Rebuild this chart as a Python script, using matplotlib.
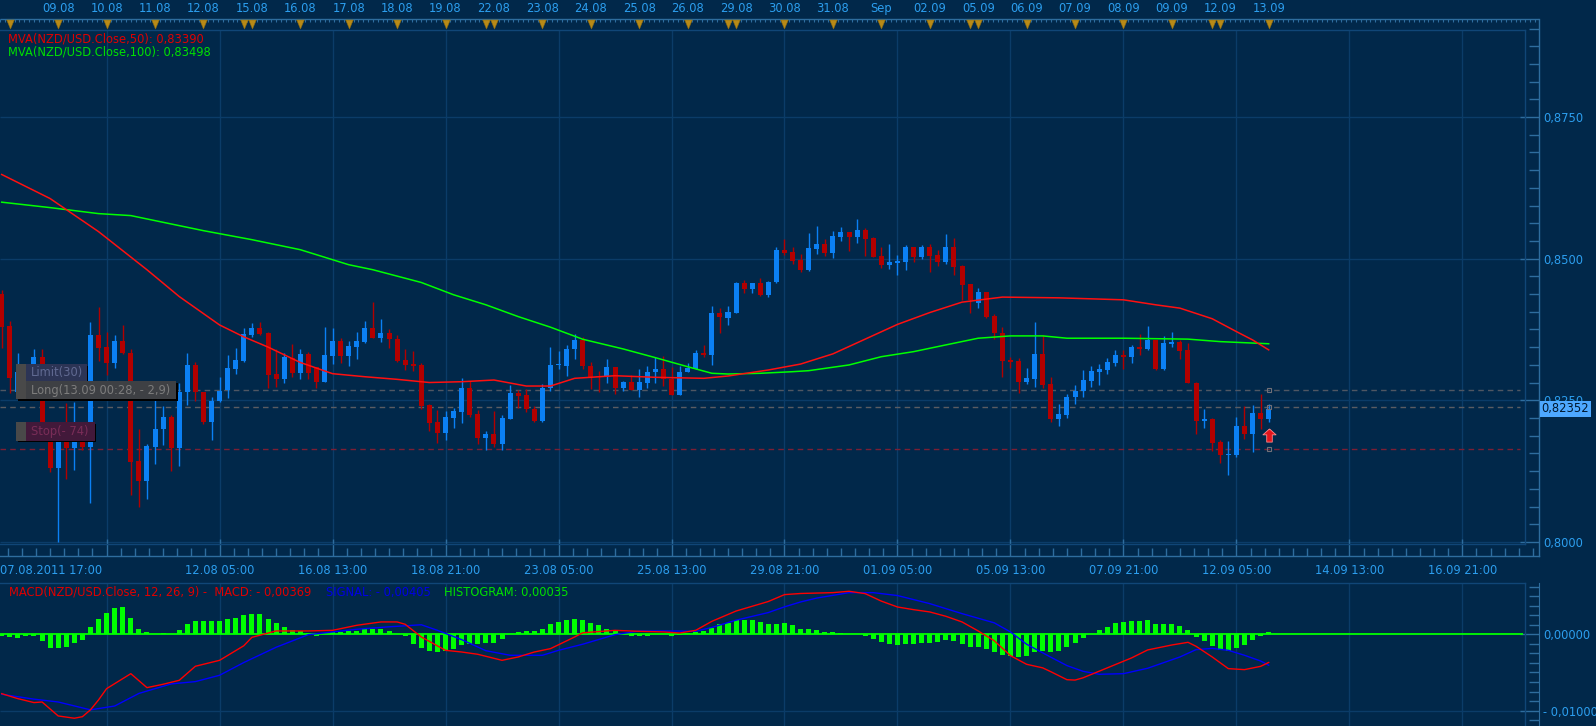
import numpy as np
import matplotlib
matplotlib.use('Agg')
import matplotlib.pyplot as plt
from matplotlib.patches import Rectangle
from matplotlib.lines import Line2D
from matplotlib.path import Path
from matplotlib.transforms import blended_transform_factory
from matplotlib.ticker import FixedLocator, FuncFormatter

plt.rcParams['font.family'] = ['DejaVu Sans']

# ---------------------------------------------------------------- data
# NZD/USD 4-hour candles (index 0 = 07.08.2011 17:00)
opens = [
    0.84380, 0.83814, 0.82646, 0.83000, 0.83141, 0.83265, 0.81778, 0.81300, 0.81778, 0.81654,
    0.81778, 0.81672, 0.83655, 0.83442, 0.83159, 0.83548, 0.83336, 0.81424, 0.81070, 0.81672,
    0.81991, 0.82203, 0.81654, 0.82646, 0.83124, 0.82646, 0.82115, 0.82486, 0.82681, 0.83053,
    0.83194, 0.83655, 0.83778, 0.83690, 0.82964, 0.82876, 0.83247, 0.82982, 0.83318, 0.83088,
    0.82823, 0.83283, 0.83548, 0.83283, 0.83442, 0.83531, 0.83778, 0.83601, 0.83690, 0.83584,
    0.83212, 0.83141, 0.83124, 0.82416, 0.82115, 0.81920, 0.82185, 0.82292, 0.82716, 0.82256,
    0.81831, 0.81902, 0.81725, 0.82168, 0.82628, 0.82593, 0.82345, 0.82132, 0.82716, 0.83124,
    0.83106, 0.83407, 0.83566, 0.83106, 0.82929, 0.82911, 0.83088, 0.82716, 0.82823, 0.82681,
    0.82805, 0.83000, 0.83053, 0.82876, 0.82593, 0.83000, 0.83053, 0.83336, 0.83301, 0.84044,
    0.83955, 0.84044, 0.84575, 0.84469, 0.84575, 0.84363, 0.84593, 0.85159, 0.85124, 0.84982,
    0.84805, 0.85177, 0.85265, 0.85106, 0.85389, 0.85478, 0.85389, 0.85513, 0.85371, 0.85053,
    0.84894, 0.84929, 0.84947, 0.85212, 0.85035, 0.85212, 0.85071, 0.84947, 0.85212, 0.84876,
    0.84557, 0.84221, 0.84416, 0.83991, 0.83690, 0.83212, 0.83194, 0.82823, 0.82876, 0.83318,
    0.82787, 0.82168, 0.82239, 0.82557, 0.82663, 0.82840, 0.83000, 0.83035, 0.83159, 0.83301,
    0.83265, 0.83442, 0.83407, 0.83566, 0.83053, 0.83495, 0.83531, 0.83389, 0.82805, 0.82132,
    0.82168, 0.81761, 0.81531, 0.81531, 0.82044, 0.81902, 0.82274, 0.82168]
highs = [
    0.84451, 0.83902, 0.83336, 0.83106, 0.83407, 0.83407, 0.82115, 0.82062, 0.82451, 0.82469,
    0.81973, 0.83885, 0.84150, 0.83708, 0.83655, 0.83832, 0.83407, 0.81991, 0.81725, 0.82522,
    0.82398, 0.82239, 0.82805, 0.83336, 0.83177, 0.82646, 0.82557, 0.82911, 0.83301, 0.83424,
    0.83778, 0.83867, 0.83885, 0.83708, 0.83407, 0.83336, 0.83495, 0.83407, 0.83354, 0.83088,
    0.83796, 0.83778, 0.83601, 0.83548, 0.83708, 0.83902, 0.84239, 0.83938, 0.83761, 0.83655,
    0.83407, 0.83371, 0.83159, 0.82433, 0.82327, 0.82309, 0.82362, 0.82893, 0.82840, 0.82327,
    0.81955, 0.82309, 0.82239, 0.82770, 0.82681, 0.82699, 0.82398, 0.82787, 0.83442, 0.83371,
    0.83478, 0.83672, 0.83619, 0.83177, 0.83017, 0.83230, 0.83088, 0.82840, 0.82947, 0.83053,
    0.83106, 0.83265, 0.83283, 0.83088, 0.83106, 0.83159, 0.83389, 0.83478, 0.84168, 0.84132,
    0.84168, 0.84593, 0.84628, 0.84575, 0.84663, 0.84610, 0.85212, 0.85354, 0.85212, 0.85088,
    0.85460, 0.85584, 0.85354, 0.85495, 0.85566, 0.85478, 0.85708, 0.85548, 0.85389, 0.85212,
    0.85265, 0.85071, 0.85248, 0.85212, 0.85248, 0.85265, 0.85159, 0.85442, 0.85371, 0.84894,
    0.84557, 0.84486, 0.84416, 0.84026, 0.83796, 0.83265, 0.83247, 0.83070, 0.83885, 0.83655,
    0.82911, 0.82433, 0.82610, 0.82770, 0.83035, 0.83106, 0.83141, 0.83247, 0.83389, 0.83389,
    0.83478, 0.83672, 0.83814, 0.83566, 0.83637, 0.83708, 0.83566, 0.83513, 0.82823, 0.82345,
    0.82185, 0.81796, 0.81778, 0.82203, 0.82398, 0.82416, 0.82610, 0.82433]
lows = [
    0.83424, 0.82628, 0.82539, 0.82539, 0.83000, 0.81796, 0.81230, 0.79991, 0.81106, 0.81265,
    0.81619, 0.80681, 0.83194, 0.82947, 0.83070, 0.83318, 0.80823, 0.80610, 0.80752, 0.81371,
    0.81708, 0.81247, 0.81336, 0.82416, 0.82486, 0.82079, 0.81796, 0.82469, 0.82539, 0.82964,
    0.83177, 0.83619, 0.83655, 0.82716, 0.82734, 0.82805, 0.82911, 0.82876, 0.82876, 0.82716,
    0.82823, 0.83141, 0.83159, 0.83106, 0.83230, 0.83513, 0.83601, 0.83531, 0.83424, 0.83177,
    0.83035, 0.83017, 0.82345, 0.81955, 0.81743, 0.81796, 0.82008, 0.82097, 0.82203, 0.81725,
    0.81619, 0.81672, 0.81619, 0.82168, 0.82362, 0.82292, 0.82115, 0.82115, 0.82663, 0.83053,
    0.82929, 0.83230, 0.83053, 0.82699, 0.82646, 0.82805, 0.82610, 0.82663, 0.82681, 0.82557,
    0.82716, 0.82805, 0.82752, 0.82593, 0.82593, 0.83000, 0.83053, 0.83265, 0.83124, 0.83690,
    0.83832, 0.84044, 0.84398, 0.84398, 0.84345, 0.84327, 0.84575, 0.85071, 0.84911, 0.84770,
    0.84787, 0.85088, 0.85053, 0.85017, 0.85318, 0.85141, 0.85283, 0.85053, 0.85035, 0.84840,
    0.84823, 0.84717, 0.84805, 0.84947, 0.85000, 0.84770, 0.84876, 0.84911, 0.84717, 0.84274,
    0.84044, 0.84132, 0.83955, 0.83584, 0.82911, 0.83070, 0.82628, 0.82787, 0.82734, 0.82716,
    0.82115, 0.82044, 0.82185, 0.82433, 0.82557, 0.82734, 0.82770, 0.82964, 0.83106, 0.83053,
    0.83159, 0.83301, 0.83389, 0.83035, 0.83035, 0.83442, 0.83230, 0.82805, 0.81902, 0.82008,
    0.81601, 0.81389, 0.81177, 0.81495, 0.81814, 0.81584, 0.81991, 0.82115]
closes = [
    0.83796, 0.82893, 0.83000, 0.82681, 0.83265, 0.82062, 0.81300, 0.81778, 0.81654, 0.81778,
    0.81672, 0.83655, 0.83424, 0.83159, 0.83548, 0.83336, 0.81407, 0.81070, 0.81690, 0.81991,
    0.82203, 0.81654, 0.82646, 0.83124, 0.82646, 0.82115, 0.82486, 0.82663, 0.83070, 0.83212,
    0.83672, 0.83778, 0.83672, 0.82947, 0.82876, 0.83265, 0.82982, 0.83318, 0.82982, 0.82823,
    0.83301, 0.83548, 0.83283, 0.83460, 0.83548, 0.83778, 0.83601, 0.83690, 0.83584, 0.83194,
    0.83124, 0.83106, 0.82398, 0.82097, 0.81920, 0.82203, 0.82309, 0.82716, 0.82239, 0.81831,
    0.81902, 0.81725, 0.82185, 0.82628, 0.82575, 0.82345, 0.82132, 0.82716, 0.83124, 0.83141,
    0.83407, 0.83566, 0.83106, 0.82911, 0.82911, 0.83088, 0.82716, 0.82823, 0.82681, 0.82823,
    0.83000, 0.83053, 0.82876, 0.82593, 0.83000, 0.83070, 0.83336, 0.83301, 0.84044, 0.83973,
    0.84062, 0.84575, 0.84469, 0.84575, 0.84363, 0.84593, 0.85159, 0.85106, 0.84964, 0.84805,
    0.85194, 0.85265, 0.85106, 0.85407, 0.85478, 0.85389, 0.85513, 0.85354, 0.85035, 0.84894,
    0.84947, 0.84964, 0.85212, 0.85035, 0.85212, 0.85053, 0.84947, 0.85212, 0.84858, 0.84540,
    0.84274, 0.84416, 0.83973, 0.83690, 0.83194, 0.83177, 0.82823, 0.82893, 0.83318, 0.82770,
    0.82168, 0.82256, 0.82557, 0.82663, 0.82858, 0.83017, 0.83053, 0.83177, 0.83301, 0.83265,
    0.83442, 0.83407, 0.83566, 0.83053, 0.83513, 0.83531, 0.83371, 0.82805, 0.82132, 0.82168,
    0.81743, 0.81531, 0.81548, 0.82044, 0.81902, 0.82274, 0.82168, 0.82352]

# moving averages (read at selected candles)
ma50_idx = [0, 6, 12, 18, 22, 27, 30, 33, 37, 41, 45, 49, 53, 57, 61, 65, 68, 71, 76, 81,
            87, 90, 95, 99, 103, 107, 111, 115, 119, 124, 131, 139, 143, 146, 150, 153, 155, 157]
ma50_val = [0.86487, 0.86062, 0.85478, 0.84805, 0.84332, 0.83830, 0.83620, 0.83440, 0.83168, 0.82970,
            0.82916, 0.82870, 0.82814, 0.82828, 0.82858, 0.82752, 0.82752, 0.82888, 0.82934, 0.82906,
            0.82888, 0.82929, 0.83035, 0.83140, 0.83320, 0.83580, 0.83840, 0.84049, 0.84233, 0.84322,
            0.84309, 0.84274, 0.84186, 0.84127, 0.83940, 0.83713, 0.83566, 0.83390]
ma100_idx = [0, 6, 12, 16, 25, 31, 37, 43, 46, 52, 56, 60, 64, 68, 72, 77, 81, 85, 88, 90,
             94, 98, 100, 105, 109, 113, 117, 121, 125, 129, 132, 139, 147, 151, 157]
ma100_val = [0.85998, 0.85902, 0.85796, 0.85761, 0.85495, 0.85336, 0.85159, 0.84894, 0.84805, 0.84580,
             0.84363, 0.84186, 0.83978, 0.83791, 0.83578, 0.83407, 0.83253, 0.83093, 0.82977, 0.82964,
             0.82977, 0.83005, 0.83023, 0.83124, 0.83270, 0.83359, 0.83478, 0.83596, 0.83637, 0.83637,
             0.83596, 0.83596, 0.83580, 0.83536, 0.83498]

# MACD(12,26,9)
hist = [
    -0.00026, -0.00035, -0.00044, -0.00026, -0.00017, -0.00092, -0.00175, -0.00179, -0.00166, -0.00114,
    -0.00079, 0.00092, 0.00205, 0.00280, 0.00345, 0.00354, 0.00210, 0.00074, 0.00031, 0.00000,
    0.00013, 0.00000, 0.00052, 0.00140, 0.00175, 0.00175, 0.00175, 0.00175, 0.00197, 0.00218,
    0.00249, 0.00262, 0.00262, 0.00205, 0.00153, 0.00096, 0.00052, 0.00044, 0.00017, -0.00026,
    0.00000, 0.00026, 0.00031, 0.00039, 0.00039, 0.00066, 0.00066, 0.00066, 0.00044, 0.00000,
    -0.00026, -0.00122, -0.00175, -0.00218, -0.00232, -0.00218, -0.00188, -0.00144, -0.00122, -0.00122,
    -0.00114, -0.00114, -0.00061, 0.00000, 0.00031, 0.00044, 0.00044, 0.00074, 0.00131, 0.00162,
    0.00184, 0.00205, 0.00184, 0.00153, 0.00118, 0.00074, 0.00039, 0.00000, -0.00026, -0.00026,
    -0.00017, 0.00000, 0.00000, -0.00026, -0.00013, 0.00017, 0.00031, 0.00044, 0.00087, 0.00140,
    0.00153, 0.00184, 0.00192, 0.00184, 0.00162, 0.00140, 0.00140, 0.00144, 0.00118, 0.00066,
    0.00066, 0.00052, 0.00031, 0.00026, 0.00013, 0.00000, 0.00000, -0.00017, -0.00061, -0.00100,
    -0.00122, -0.00144, -0.00122, -0.00122, -0.00114, -0.00114, -0.00100, -0.00079, -0.00087, -0.00122,
    -0.00166, -0.00166, -0.00192, -0.00232, -0.00275, -0.00288, -0.00297, -0.00284, -0.00232, -0.00218,
    -0.00232, -0.00218, -0.00166, -0.00114, -0.00048, 0.00000, 0.00052, 0.00092, 0.00144, 0.00157,
    0.00170, 0.00170, 0.00184, 0.00131, 0.00131, 0.00131, 0.00105, 0.00052, -0.00035, -0.00087,
    -0.00157, -0.00210, -0.00218, -0.00179, -0.00144, -0.00079, -0.00026, 0.00035]
macd_idx = [0, 2, 4, 5, 7, 9, 10, 11, 12, 13, 16, 18, 20, 22, 24, 27, 30, 31, 34, 38,
            41, 44, 47, 49, 50, 52, 55, 57, 59, 62, 64, 66, 68, 71, 72, 76, 79, 82, 84, 86,
            88, 91, 95, 97, 99, 103, 105, 107, 109, 111, 113, 115, 117, 119, 121, 123, 125, 127, 129, 130,
            132, 133, 134, 137, 140, 142, 145, 147, 148, 150, 152, 154, 156, 157]
macd_val = [-0.00778, -0.00843, -0.00895, -0.00887, -0.01070, -0.01100, -0.01080, -0.00990, -0.00860, -0.00712,
            -0.00516, -0.00699, -0.00655, -0.00603, -0.00419, -0.00341, -0.00150, -0.00040, 0.00044, 0.00044,
            0.00052, 0.00118, 0.00162, 0.00162, 0.00131, -0.00035, -0.00210, -0.00232, -0.00262, -0.00341,
            -0.00297, -0.00232, -0.00188, -0.00035, 0.00020, 0.00052, 0.00039, 0.00031, 0.00017, 0.00052,
            0.00170, 0.00305, 0.00430, 0.00520, 0.00535, 0.00546, 0.00564, 0.00533, 0.00435, 0.00358,
            0.00323, 0.00293, 0.00236, 0.00162, 0.00044, -0.00085, -0.00280, -0.00393, -0.00440, -0.00490,
            -0.00595, -0.00600, -0.00570, -0.00440, -0.00310, -0.00205, -0.00140, -0.00105, -0.00157, -0.00297,
            -0.00450, -0.00463, -0.00420, -0.00369]
signal_idx = [0, 4, 7, 11, 14, 17, 21, 24, 27, 30, 34, 38, 41, 44, 48, 52, 54, 57, 60, 63,
              67, 69, 72, 76, 79, 83, 86, 88, 91, 95, 97, 99, 101, 105, 108, 111, 115, 119, 123, 125,
              127, 130, 132, 134, 136, 139, 142, 146, 148, 150, 152, 154, 156, 157]
signal_val = [-0.00786, -0.00850, -0.00887, -0.00990, -0.00940, -0.00775, -0.00650, -0.00620, -0.00537, -0.00370,
              -0.00170, -0.00005, 0.00031, 0.00066, 0.00098, 0.00125, 0.00052, -0.00070, -0.00215, -0.00275,
              -0.00275, -0.00210, -0.00130, -0.00005, 0.00044, 0.00044, 0.00039, 0.00090, 0.00185, 0.00285,
              0.00360, 0.00424, 0.00475, 0.00546, 0.00546, 0.00508, 0.00402, 0.00271, 0.00150, 0.00031,
              -0.00130, -0.00300, -0.00410, -0.00485, -0.00524, -0.00516, -0.00445, -0.00297, -0.00201, -0.00185,
              -0.00210, -0.00275, -0.00350, -0.00405]

# calendar / axis labels
session_starts = [1, 7, 13, 19, 25, 30, 31, 37, 43, 49, 55, 60, 61, 67, 73, 79, 85, 90, 91, 97,
                  103, 109, 115, 120, 121, 127, 133, 139, 145, 150, 151, 157]
day_label_idx = [7, 13, 19, 25, 31, 37, 43, 49, 55, 61, 67, 73, 79, 85, 91, 97, 103, 109, 115, 121,
                 127, 133, 139, 145, 151, 157]
day_labels = ['09.08', '10.08', '11.08', '12.08', '15.08', '16.08', '17.08', '18.08', '19.08', '22.08',
              '23.08', '24.08', '25.08', '26.08', '29.08', '30.08', '31.08', 'Sep', '02.09', '05.09',
              '06.09', '07.09', '08.09', '09.09', '12.09', '13.09']
grid_idx = [13, 27, 41, 55, 69, 83, 97, 111, 125, 139, 153, 167, 181]
time_label_idx = [27, 41, 55, 69, 83, 97, 111, 125, 139, 153, 167, 181]
time_labels = ['12.08 05:00', '16.08 13:00', '18.08 21:00', '23.08 05:00', '25.08 13:00', '29.08 21:00',
               '01.09 05:00', '05.09 13:00', '07.09 21:00', '12.09 05:00', '14.09 13:00', '16.09 21:00']
first_time_label = '07.08.2011 17:00'

price_ticks = [0.800, 0.825, 0.850, 0.875]
macd_ticks = [-0.010, 0.0]

current_price = 0.82352
order_entry = 0.82381
order_limit = 0.82681
order_stop = 0.81641
buy_arrow_idx = 157
buy_arrow_price = 0.81896
order_texts = ['Limit(30)', 'Long(13.09 00:28, - 2,9)', 'Stop(- 74)']

# ---------------------------------------------------------------- style / layout
BG = '#01284a'
GRID = '#0b3c68'
FRAME = '#104677'
AXC = '#2e6d9e'
LBL = '#2c9eee'
UP = '#0b80f4'
DN = '#b20000'
FS = 8.3

W, H = 1596, 726
fig = plt.figure(figsize=(W / 100, H / 100), dpi=100)
fig.patch.set_facecolor(BG)

X0, DX = 1.7, 8.07      # candle centre position in px
XR, XIN = 1539.0, 1525.0


def ix(px):
    return (px - X0) / DX


def fx(px):
    return px / W


def fy(py):
    return 1.0 - py / H


def p_of(y):
    return 0.8 + (541.9 - y) / 5664.0


def m_of(y):
    return (634.3 - y) / 7630.0


def fmt(v, d):
    s = f"{abs(v):.{d}f}".replace('.', ',')
    return ('- ' + s) if v < -1e-12 else s


def fline(x0, y0, x1, y1, c, lw=1.0):
    fig.add_artist(Line2D([fx(x0), fx(x1)], [fy(y0), fy(y1)], color=c, lw=lw,
                          transform=fig.transFigure, zorder=1))


# ---------------------------------------------------------------- main price panel
MT, MB = 18.5, 556.0
ax = fig.add_axes([0, fy(MB), fx(XR), (MB - MT) / H])
ax.set_facecolor('none')
ax.set_xlim(ix(0), ix(XR))
ax.set_ylim(p_of(MB), p_of(MT))
for s in ['left', 'top']:
    ax.spines[s].set_visible(False)
for s in ['right', 'bottom']:
    ax.spines[s].set_color(AXC)
    ax.spines[s].set_linewidth(1.0)

ax.yaxis.set_ticks_position('right')
ax.set_yticks(price_ticks)
ax.yaxis.set_minor_locator(FixedLocator(np.arange(0.796875, 0.8925, 0.003125)))
ax.yaxis.set_major_formatter(FuncFormatter(lambda v, _: f"{v:.4f}".replace('.', ',')))
ax.tick_params(axis='y', which='major', direction='in', length=14, width=1, color=AXC,
               labelcolor=LBL, labelsize=FS, pad=3)
ax.tick_params(axis='y', which='minor', direction='in', length=7, width=1, color=AXC)

ax.set_xticks(grid_idx)
ax.xaxis.set_minor_locator(FixedLocator(np.arange(grid_idx[0] - 14, ix(XR), 1.75)))
ax.tick_params(axis='x', which='major', direction='in', length=12, width=1, color=AXC,
               labelbottom=False)
ax.tick_params(axis='x', which='minor', direction='in', length=6, width=1, color=AXC)

# grid + frame
ax.vlines(grid_idx, p_of(544), p_of(30), colors=GRID, lw=1, zorder=0)
ax.hlines(price_ticks, ix(0), ix(XIN), colors=GRID, lw=1, zorder=0)
fline(0, 30, XIN, 30, FRAME)
fline(XIN, 30, XIN, 544, FRAME)
fline(0, 544, XIN, 544, FRAME)

# candles
idx = np.arange(len(closes))
o = np.array(opens); c = np.array(closes); h = np.array(highs); l = np.array(lows)
col = np.where(c >= o, UP, DN)
ax.vlines(idx, l, h, colors=col, lw=1.0, zorder=3)
ax.bar(idx, np.maximum(np.abs(c - o), 0.00025), bottom=np.minimum(o, c), width=0.62,
       color=col, lw=0, zorder=3)

# moving averages
ax.plot(ma100_idx, ma100_val, color='#00ff00', lw=1.1, zorder=4)
ax.plot(ma50_idx, ma50_val, color='#ff1010', lw=1.1, zorder=4)

# order lines
xe = ix(1520)
ax.hlines(order_limit, ix(0), xe, colors='#4f5663', lw=1, linestyles=(0, (4, 3)), zorder=2)
ax.hlines(order_entry, ix(0), xe, colors='#5b5c62', lw=1, linestyles=(0, (4, 3)), zorder=2)
ax.hlines(order_stop, ix(0), xe, colors='#7b1f35', lw=1, linestyles=(0, (4, 3)), zorder=2)
ax.plot([buy_arrow_idx] * 3, [order_limit, order_entry, order_stop], ls='none', marker='s', ms=3,
        mfc='none', mec='#707078', mew=0.8, zorder=5)

arrow = Path([(0, 1), (1, 0.1), (0.42, 0.1), (0.42, -1), (-0.42, -1), (-0.42, 0.1), (-1, 0.1), (0, 1)])
ax.plot([buy_arrow_idx], [buy_arrow_price], ls='none', marker=arrow, ms=9.5, color='#e4141c',
        mec='#ff8a8a', mew=0.6, zorder=6)

# current price label
ax.text(ix(1541.5), current_price, fmt(current_price, 5), ha='left', va='center', fontsize=FS,
        color='#00172e', clip_on=False, zorder=10,
        bbox=dict(boxstyle='square,pad=0.12', fc='#4ea8ff', ec='none'))

# bottom time labels
tr = blended_transform_factory(ax.transData, fig.transFigure)
fig.text(fx(0), fy(570), first_time_label, ha='left', va='center', color=LBL, fontsize=FS)
for i, lab in zip(time_label_idx, time_labels):
    ax.text(i, fy(570), lab, transform=tr, ha='center', va='center', color=LBL, fontsize=FS,
            clip_on=False)

# legends
fig.text(fx(8.4), fy(39.3), f"MVA(NZD/USD.Close,50): {fmt(ma50_val[-1], 5)}", color='#e00000',
         fontsize=FS, va='center', ha='left')
fig.text(fx(8.4), fy(52.3), f"MVA(NZD/USD.Close,100): {fmt(ma100_val[-1], 5)}", color='#00e000',
         fontsize=FS, va='center', ha='left')


# order boxes
def order_box(x0, y0, x1, y1, fc, tc, label):
    fig.add_artist(Rectangle((fx(x0 + 1.5), fy(y1 + 1.5)), fx(x1 - x0), (y1 - y0) / H,
                             transform=fig.transFigure, fc='#000000', ec='none', zorder=7))
    fig.add_artist(Rectangle((fx(x0), fy(y1)), fx(x1 - x0), (y1 - y0) / H,
                             transform=fig.transFigure, fc=fc, ec='none', zorder=8))
    fig.add_artist(Rectangle((fx(x0), fy(y1)), fx(10), (y1 - y0) / H,
                             transform=fig.transFigure, fc='#494949', ec='none', zorder=9))
    fig.text(fx(x0 + 15), fy((y0 + y1) / 2), label, color=tc, fontsize=FS, va='center',
             ha='left', zorder=10)


order_box(16, 364, 86.7, 381, '#2c3455', '#616a92', order_texts[0])
order_box(16, 381.5, 176, 399, '#3e4044', '#7d7d7d', order_texts[1])
order_box(16, 422, 94.7, 440.7, '#42193a', '#7a2d58', order_texts[2])

# ---------------------------------------------------------------- top calendar strip
axt = fig.add_axes([0, fy(30), fx(XR), 30 / H])
axt.set_xlim(ix(0), ix(XR))
axt.set_ylim(30, 0)
axt.axis('off')
axt.hlines(18.5, ix(0), ix(XR), colors=AXC, lw=1)
axt.vlines(np.arange(session_starts[0] - 1.2, ix(XR), 0.6), 18.5, 21.5, colors=AXC, lw=0.8)
axt.vlines(session_starts, 18.5, 25.5, colors=AXC, lw=1)
tri = Path([(-0.42, 0.5), (0.42, 0.5), (0, -0.5), (-0.42, 0.5)])
axt.plot(session_starts, [23.5] * len(session_starts), ls='none', marker=tri, ms=6.5,
         color='#b88a17', mec='#8a6a10', mew=0.4)
for i, lab in zip(day_label_idx, day_labels):
    axt.text(i, 8.5, lab, ha='center', va='center', color=LBL, fontsize=FS)

# ---------------------------------------------------------------- MACD panel
MCT = 583.3
axm = fig.add_axes([0, 0, fx(XR), (H - MCT) / H])
axm.set_facecolor('none')
axm.set_xlim(ix(0), ix(XR))
axm.set_ylim(m_of(H), m_of(MCT))
for s in ['left', 'top', 'bottom']:
    axm.spines[s].set_visible(False)
axm.spines['right'].set_color(AXC)
axm.yaxis.set_ticks_position('right')
axm.set_yticks(macd_ticks)
axm.yaxis.set_minor_locator(FixedLocator(np.arange(-0.0125, 0.0075, 0.00125)))
axm.yaxis.set_major_formatter(FuncFormatter(lambda v, _: fmt(v, 5)))
axm.tick_params(axis='y', which='major', direction='in', length=14, width=1, color=AXC,
                labelcolor=LBL, labelsize=FS, pad=3)
axm.tick_params(axis='y', which='minor', direction='in', length=7, width=1, color=AXC)
axm.tick_params(axis='x', which='both', bottom=False, labelbottom=False)

axm.vlines(grid_idx, m_of(H), m_of(MCT), colors=GRID, lw=1, zorder=0)
axm.hlines(macd_ticks[0], ix(0), ix(XIN), colors=GRID, lw=1, zorder=0)
fline(0, MCT, XIN, MCT, FRAME)
fline(XIN, MCT, XIN, H, FRAME)

axm.bar(np.arange(len(hist)), hist, width=0.62, color='#00ff00', lw=0, zorder=3)
axm.hlines(0, ix(0), ix(1523), colors='#00ff00', lw=1.3, zorder=3)
axm.plot(signal_idx, signal_val, color='#0000ff', lw=1.0, zorder=4)
axm.plot(macd_idx, macd_val, color='#ff0000', lw=1.0, zorder=4)

fig.text(fx(9.2), fy(592.3), f"MACD(NZD/USD.Close, 12, 26, 9) -  MACD: {fmt(macd_val[-1], 5)}",
         color='#e00000', fontsize=FS, va='center', ha='left')
fig.text(fx(326.5), fy(592.3), f"SIGNAL: {fmt(signal_val[-1], 5)}", color='#0000e6',
         fontsize=FS, va='center', ha='left')
fig.text(fx(444), fy(592.3), f"HISTOGRAM: {fmt(hist[-1], 5)}", color='#00e000',
         fontsize=FS, va='center', ha='left')

fig.savefig('out.png', dpi=100, facecolor=BG)
